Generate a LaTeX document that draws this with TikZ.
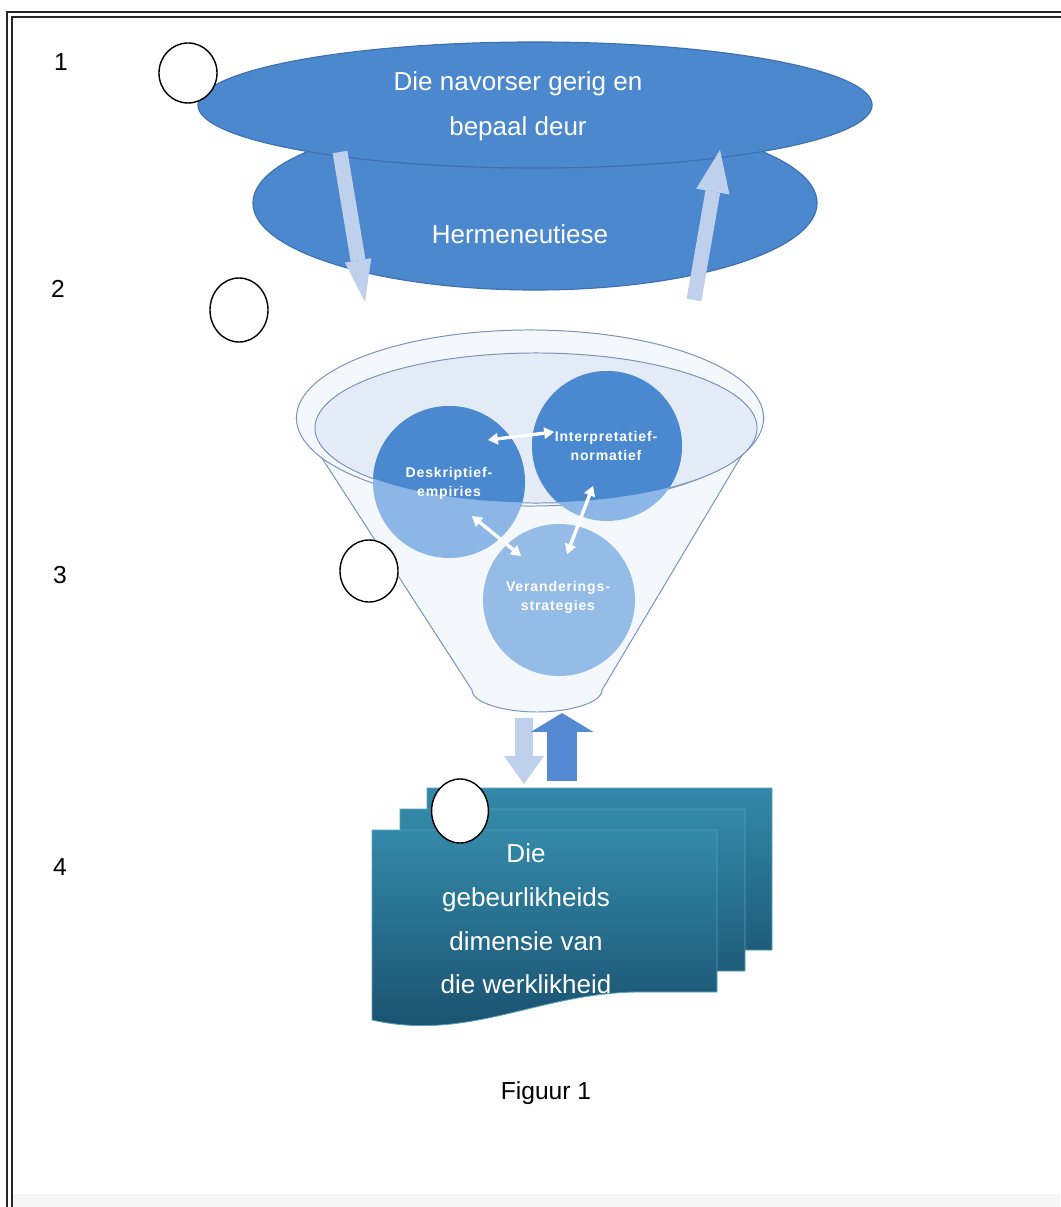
\documentclass[tikz,border=0pt]{standalone}
\usepackage{fontspec}
\setmainfont{Liberation Sans}
\newfontfamily\circlefont[LetterSpace=6]{Liberation Sans}
\usetikzlibrary{arrows.meta,shapes.geometric}
\definecolor{ellblue}{RGB}{76,136,205}
\definecolor{ellline}{RGB}{62,112,175}
\definecolor{paleblue}{RGB}{190,208,236}
\definecolor{funfill}{RGB}{244,247,252}
\definecolor{funline}{RGB}{120,148,186}
\definecolor{innerfill}{RGB}{227,235,246}
\definecolor{darkc}{RGB}{74,137,207}
\definecolor{lightc}{RGB}{140,182,229}
\definecolor{upblue}{RGB}{84,138,210}
\definecolor{doctop}{RGB}{52,137,168}
\definecolor{docbot}{RGB}{24,78,108}
\definecolor{docline}{RGB}{88,160,192}
\begin{document}
\begin{tikzpicture}[x=0.025cm,y=-0.025cm,
  bigtext/.style={text=white, align=center, font=\fontsize{18.5}{32}\selectfont},
  doctext/.style={text=white, align=center, font=\fontsize{18.5}{31}\selectfont},
  ctext/.style={text=white, align=center, font=\circlefont\fontsize{10}{13.5}\selectfont\bfseries},
  numtext/.style={text=black, font=\fontsize{17.5}{20}\selectfont},
  markc/.style={ellipse, draw=black, line width=1pt, fill=white, inner sep=0pt},
  bigell/.style={ellipse, fill=ellblue, draw=ellline, line width=0.8pt, inner sep=0pt},
  palearrow/.style={paleblue, line width=10.6pt},
  whitearrow/.style={white, line width=2.4pt, {Triangle[length=7pt,width=8.5pt,line width=0pt]}-{Triangle[length=7pt,width=8.5pt,line width=0pt]}},
  docshade/.style={top color=doctop, bottom color=docbot, draw=docline, line width=0.6pt}
]
\useasboundingbox (0,0) rectangle (1060,1207);
\fill[white] (0,0) rectangle (1060,1207);
\fill[gray!7] (12,1194) rectangle (1060,1207);
% frame
\draw[black!85, line width=1.1pt, double=white, double distance=2.2pt] (1064,14.5) -- (9.5,14.5) -- (9.5,1210);

% numbers
\node[numtext] (n1) at (61,62) {1};
\node[numtext] (n2) at (58,289) {2};
\node[numtext] (n3) at (60,575) {3};
\node[numtext] (n4) at (60,867) {4};

% top ellipses
\node[bigell, minimum width=14.1cm, minimum height=4.35cm] (herm) at (535,203) {};
\node[bigell, minimum width=16.85cm, minimum height=3.15cm] (top) at (535,105) {};
\node[bigtext] (toptext) at (518,106) {Die navorser gerig en\\bepaal deur};
\node[bigtext] (hermtext) at (520,234) {Hermeneutiese};

% pale arrows between the ellipses
\coordinate (la1) at (340,152);
\coordinate (la2) at (365,302);
\coordinate (ra1) at (694,300);
\coordinate (ra2) at (720,150);
\draw[palearrow, -{Triangle[length=30pt,width=19pt,line width=0pt]}] (la1) -- (la2);
\draw[palearrow, -{Triangle[length=30pt,width=24pt,line width=0pt]}] (ra1) -- (ra2);

% funnel
\fill[funfill] (296,418) -- (472,690) .. controls (472,703) and (505,712) .. (537,712)
  .. controls (569,712) and (602,703) .. (602,690) -- (764,418) -- cycle;
\draw[funline, line width=0.7pt] (296,418) -- (472,690) .. controls (472,703) and (505,712) .. (537,712)
  .. controls (569,712) and (602,703) .. (602,690) -- (764,418);
\node[ellipse, draw=funline, line width=0.7pt, fill=funfill, inner sep=0pt,
  minimum width=11.675cm, minimum height=4.4cm] (funnel) at (530,418) {};
\node[ellipse, draw=funline, line width=0.7pt, fill=innerfill, inner sep=0pt,
  minimum width=11.05cm, minimum height=3.75cm] (inner) at (536,428) {};

% circles
\coordinate (dc) at (449,482);
\coordinate (ic) at (607,446);
\coordinate (vc) at (559,600);
\fill[lightc] (dc) circle [radius=76];
\fill[lightc] (ic) circle [radius=75];
\fill[lightc!92!white] (vc) circle [radius=76];
\begin{scope}
  \clip (536,428) ellipse [x radius=220.5, y radius=74.5];
  \fill[darkc] (dc) circle [radius=76];
  \fill[darkc] (ic) circle [radius=75];
\end{scope}
\node[ctext] (dtext) at (449,483) {Deskriptief-\\empiries};
\node[ctext] (itext) at (606,446) {Interpretatief-\\normatief};
\node[ctext] (vtext) at (558,597) {Veranderings-\\strategies};

% white double arrows
\coordinate (a1) at (488,440);
\coordinate (a2) at (554,432);
\coordinate (b1) at (472,516);
\coordinate (b2) at (521,556);
\coordinate (c1) at (593,486);
\coordinate (c2) at (567,554);
\draw[whitearrow] (a1) -- (a2);
\draw[whitearrow] (b1) -- (b2);
\draw[whitearrow] (c1) -- (c2);

% arrows between funnel and documents
\coordinate (da1) at (524,718);
\coordinate (da2) at (524,784);
\coordinate (ua1) at (562,781);
\coordinate (ua2) at (562,713);
\draw[paleblue, line width=12.8pt, -{Triangle[length=20pt,width=28.5pt,line width=0pt]}] (da1) -- (da2);
\draw[upblue, line width=21.3pt, -{Triangle[length=13.5pt,width=44.6pt,line width=0pt]}] (ua1) -- (ua2);

% document stack
\newcommand\docpath{(372,830) -- (717,830) -- (717,992) -- (640,992)
  .. controls (540,992) and (470,1042) .. (372,1020) -- cycle}
\begin{scope}[shift={(55,-42)}]
  \shade[docshade] \docpath;
\end{scope}
\begin{scope}[shift={(28,-21)}]
  \shade[docshade] \docpath;
\end{scope}
\shade[docshade] \docpath;
\node[doctext] (dtxt) at (526,919) {Die\\gebeurlikheids\\dimensie van\\die werklikheid};

% small marker circles
\node[markc, minimum width=1.45cm, minimum height=1.5cm] (m1) at (188,73) {};
\node[markc, minimum width=1.45cm, minimum height=1.6cm] (m2) at (239,310) {};
\node[markc, minimum width=1.45cm, minimum height=1.55cm] (m3) at (369,571) {};
\node[markc, minimum width=1.42cm, minimum height=1.6cm] (m4) at (460,811) {};

% caption
\node[numtext] (cap) at (546,1093) {Figuur 1};
\end{tikzpicture}
\end{document}
